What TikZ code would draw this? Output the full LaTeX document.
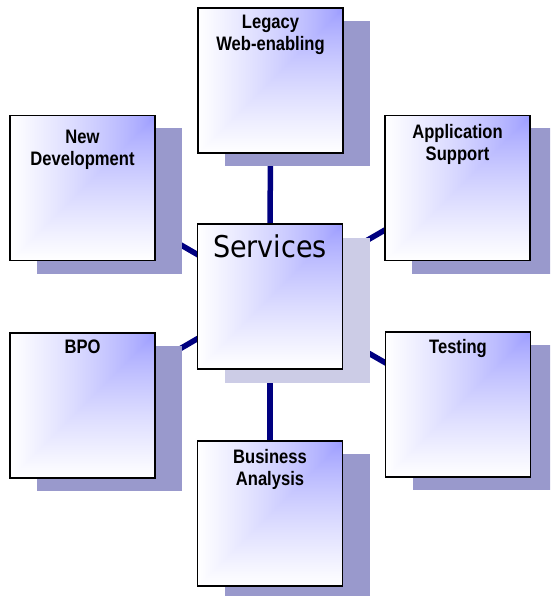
\documentclass[tikz,border=0pt]{standalone}
\usepackage{fontspec}
\usetikzlibrary{shadows,backgrounds}
\newfontfamily\lblfont{Liberation Sans Bold}[FakeStretch=0.85]
\newfontfamily\svcfont{DejaVu Sans}[FakeStretch=0.9]
\definecolor{navyline}{RGB}{0,0,128}
\definecolor{shadowdark}{RGB}{153,153,204}
\definecolor{shadowlight}{RGB}{204,204,230}
\pgfdeclarefunctionalshading{cornerblue}{\pgfpoint{-50bp}{-50bp}}{\pgfpoint{50bp}{50bp}}{}{
  25 exch sub exch 25 exch sub
  2 copy lt {exch} if pop
  dup 0 lt {pop 0} if
  50 div dup 1 gt {pop 1} if
  dup sqrt mul sqrt 0.4 mul 0.6 add dup 1
}
\tikzset{
  box/.style={draw=black, line width=1.5pt, minimum width=145pt, minimum height=145pt,
    inner sep=0pt, outer sep=0pt, shading=cornerblue,
    drop shadow={shadow xshift=27pt, shadow yshift=-13pt, fill=shadowdark, opacity=1, draw=none}},
  centerbox/.style={draw=black, line width=1.5pt, minimum width=145pt, minimum height=145pt,
    inner sep=0pt, outer sep=0pt, shading=cornerblue,
    drop shadow={shadow xshift=27pt, shadow yshift=-14pt, fill=shadowlight, opacity=1, draw=none}},
  lbl/.style={font={\lblfont\fontsize{19.5}{22}\selectfont}, align=center, inner sep=0pt, anchor=north},
  svc/.style={font={\svcfont\fontsize{30}{34}\selectfont}, inner sep=0pt, anchor=north},
  conn/.style={draw=navyline, line width=5.5pt}
}
\begin{document}
\begin{tikzpicture}[x=1pt, y=-1pt]
\clip (0,0) rectangle (550,596);
% boxes
\node[box] (legacy) at (270.5, 80.5) {};
\node[box] (newdev) at (82.5, 188) {};
\node[box] (appsup) at (457.5, 188) {};
\node[box] (bpo) at (82.5, 405.5) {};
\node[box] (testing) at (458, 404.5) {};
\node[box] (business) at (270, 513.5) {};
\node[centerbox] (services) at (270, 296.5) {};
% labels
\node[lbl] (tlegacy) at (270.5, 15) {Legacy\\Web-enabling};
\node[lbl] (tnewdev) at (82.5, 130) {New\\Development};
\node[lbl] (tappsup) at (457.5, 124) {Application\\Support};
\node[lbl] (tbpo) at (82.5, 340) {BPO};
\node[lbl] (ttesting) at (458, 339) {Testing};
\node[lbl] (tbusiness) at (270, 449) {Business\\Analysis};
\node[svc] (tservices) at (270, 235) {Services};
% connectors behind everything
\begin{pgfonlayer}{background}
\fill[white] (0,0) rectangle (550,596);
\draw[conn] (services.center) -- (legacy.center);
\draw[conn] (services.center) -- (newdev.center);
\draw[conn] (services.center) -- (appsup.center);
\draw[conn] (services.center) -- (bpo.center);
\draw[conn] (services.center) -- (testing.center);
\draw[conn] (services.center) -- (business.center);
\end{pgfonlayer}
\end{tikzpicture}
\end{document}
